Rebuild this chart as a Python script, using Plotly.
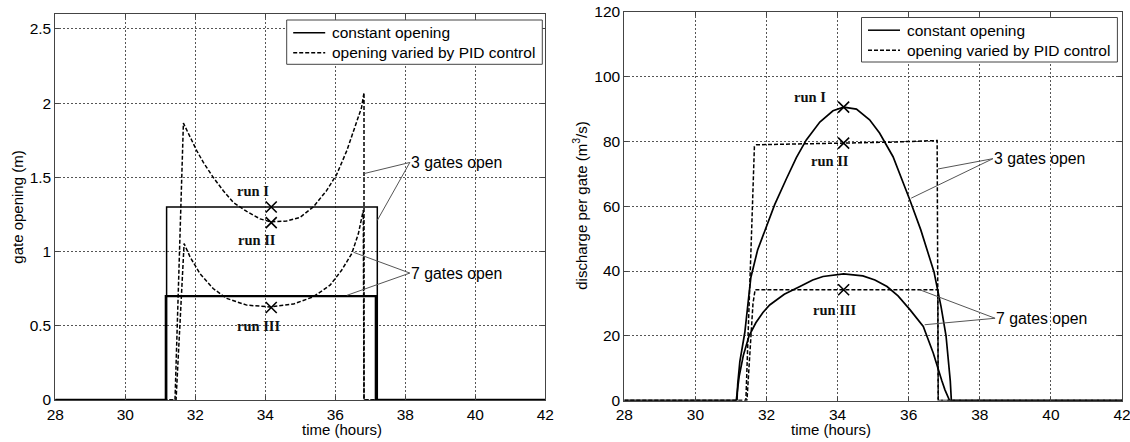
import plotly.graph_objects as go

# ---------------- gate opening (left panel) ----------------
t_open_const3 = [28, 31.18, 31.18, 37.2, 37.2, 42]
open_const3 = [0, 0, 1.3, 1.3, 0, 0]

t_open_const7 = [28, 31.16, 31.16, 37.16, 37.16, 42]
open_const7 = [0, 0, 0.7, 0.7, 0, 0]

t_open_pid3 = [28, 31.42, 31.66, 31.85, 32.04, 32.23, 32.51, 32.8, 33.09, 33.47,
               33.85, 34.16, 34.61, 34.99, 35.37, 35.75, 36.04, 36.33, 36.56, 36.75,
               36.82, 36.82, 42]
open_pid3 = [0, 0, 1.865, 1.77, 1.68, 1.60, 1.50, 1.41, 1.33, 1.27,
             1.22, 1.20, 1.206, 1.23, 1.30, 1.41, 1.52, 1.68, 1.84, 1.97,
             2.07, 0, 0]

t_open_pid7 = [28, 31.45, 31.68, 31.85, 32.13, 32.51, 32.9, 33.47, 34.13, 34.8,
               35.37, 35.85, 36.18, 36.47, 36.66, 36.8, 36.82, 42]
open_pid7 = [0, 0, 1.054, 0.964, 0.852, 0.751, 0.684, 0.639, 0.627, 0.646,
             0.695, 0.773, 0.874, 0.986, 1.121, 1.278, 0, 0]

# ---------------- discharge per gate (right panel) ----------------
t_q_const3 = [28, 31.17, 31.19, 31.25, 31.39, 31.56, 31.75, 32.0, 32.23, 32.56,
              32.84, 33.12, 33.5, 33.87, 34.17, 34.53, 34.9, 35.18, 35.56, 36.03,
              36.34, 36.71, 36.91, 37.05, 37.12, 37.17, 37.2, 42]
q_const3 = [0, 0, 5, 12, 21, 38, 46.5, 53.5, 60.5, 68.5,
            75, 80.5, 86, 89.5, 90.6, 90, 86.7, 82.6, 75.3, 62,
            52.7, 39.8, 29, 20, 13, 6, 0, 0]

t_q_const7 = [28, 31.15, 31.17, 31.23, 31.35, 31.51, 31.7, 31.9, 32.09, 32.5,
              32.94, 33.3, 33.59, 34.17, 34.71, 35.05, 35.39, 35.7, 36.04, 36.41,
              36.69, 36.83, 36.93, 37.02, 37.1, 37.15, 42]
q_const7 = [0, 0, 2, 7.4, 14, 20, 24, 27.2, 29.5, 32.8,
            35.2, 37.2, 38.3, 39.1, 38.5, 37.2, 35.2, 32.3, 28, 22.9,
            14.7, 9.5, 6.2, 3.3, 1, 0, 0]

t_q_pid3 = [28, 31.42, 31.58, 31.66, 31.72, 33.0, 34.17, 35.5, 36.8, 36.83, 42]
q_pid3 = [0, 0, 52, 78.5, 79, 79.2, 79.5, 79.8, 80.3, 0, 0]

t_q_pid7 = [28, 31.45, 31.62, 31.68, 36.82, 36.83, 42]
q_pid7 = [0, 0, 30, 34.2, 34.2, 0, 0]

# run markers and their labels
t_run = [34.17, 34.17, 34.17]
open_run = [1.3, 1.195, 0.623]
q_run = [90.6, 79.5, 34.2]
run_names = ["run I", "run II", "run III"]
t_run_label_open = [33.66, 33.75, 33.8]
y_run_label_open = [1.41, 1.076, 0.50]
t_run_label_q = [33.22, 33.78, 33.92]
y_run_label_q = [93.7, 74.1, 28.0]

# callouts: label point and the two curve points it points to
gate_labels = ["3 gates open", "7 gates open"]
open_callout_xy = [(38.13, 1.60), (38.13, 0.855)]
open_callout_targets = [[(36.82, 1.525), (37.2, 1.21)], [(36.52, 0.995), (36.33, 0.705)]]
q_callout_xy = [(38.37, 74.7), (38.43, 25.4)]
q_callout_targets = [[(36.82, 71.5), (36.07, 62.5)], [(36.31, 34.2), (36.45, 23.4)]]

legend_names = ["constant opening", "opening varied by PID control"]

x_ticks = [28, 30, 32, 34, 36, 38, 40, 42]
open_ticks = [0, 0.5, 1, 1.5, 2, 2.5]
q_ticks = [0, 20, 40, 60, 80, 100, 120]

W, H = 1130, 442
SANS = "Liberation Sans, Arial, sans-serif"
SERIF = "Liberation Serif, Times New Roman, serif"
DASH = "4px,2px"
FRAME = "#444"

fig = go.Figure()


def add_line(x, y, xa, ya, dash, width):
    fig.add_trace(go.Scatter(
        x=x, y=y, xaxis=xa, yaxis=ya, mode="lines",
        line=dict(color="black", width=width, dash=dash),
        showlegend=False, hoverinfo="skip"))


# left panel
add_line(t_open_const3, open_const3, "x", "y", "solid", 1.5)
add_line(t_open_const7, open_const7, "x", "y", "solid", 2.4)
add_line(t_open_pid3, open_pid3, "x", "y", DASH, 1.5)
add_line(t_open_pid7, open_pid7, "x", "y", DASH, 1.5)

# right panel
add_line(t_q_const3, q_const3, "x2", "y2", "solid", 1.7)
add_line(t_q_const7, q_const7, "x2", "y2", "solid", 1.7)
add_line(t_q_pid3, q_pid3, "x2", "y2", DASH, 1.5)
add_line(t_q_pid7, q_pid7, "x2", "y2", DASH, 1.5)

# callout leader lines
for xa, ya, pts, tgts in (("x", "y", open_callout_xy, open_callout_targets),
                          ("x2", "y2", q_callout_xy, q_callout_targets)):
    for (cx, cy), targets in zip(pts, tgts):
        for tx, ty in targets:
            fig.add_trace(go.Scatter(x=[cx, tx], y=[cy, ty], xaxis=xa, yaxis=ya, mode="lines",
                                     line=dict(color="#555", width=1),
                                     showlegend=False, hoverinfo="skip"))

# run markers
marker = dict(symbol="x-thin", size=11, line=dict(color="black", width=1.6), color="black")
fig.add_trace(go.Scatter(x=t_run, y=open_run, xaxis="x", yaxis="y", mode="markers",
                         marker=marker, showlegend=False, hoverinfo="skip"))
fig.add_trace(go.Scatter(x=t_run, y=q_run, xaxis="x2", yaxis="y2", mode="markers",
                         marker=marker, showlegend=False, hoverinfo="skip"))

annotations = []
for xa, ya, xs, ys in (("x", "y", t_run_label_open, y_run_label_open),
                       ("x2", "y2", t_run_label_q, y_run_label_q)):
    for name, x, y in zip(run_names, xs, ys):
        annotations.append(dict(x=x, y=y, xref=xa, yref=ya, text=f"<b>{name}</b>",
                                showarrow=False, font=dict(family=SERIF, size=14.5, color="#111")))
for xa, ya, pts in (("x", "y", open_callout_xy), ("x2", "y2", q_callout_xy)):
    for label, (x, y) in zip(gate_labels, pts):
        annotations.append(dict(x=x, y=y, xref=xa, yref=ya, text=label, showarrow=False,
                                xanchor="left", xshift=-1,
                                font=dict(family=SANS, size=15.8, color="black")))

# plot areas (paper fractions, margins are zero)
xl_dom = [55.3 / W, 545.3 / W]
xr_dom = [624.3 / W, 1122.0 / W]
yl_dom = [(H - 400) / H, (H - 14) / H]
yr_dom = [(H - 400.5) / H, (H - 12) / H]

title_font = dict(family=SANS, size=15, color="black")
annotations += [
    dict(x=sum(xl_dom) / 2, y=(H - 429) / H, xref="paper", yref="paper", text="time (hours)",
         showarrow=False, font=title_font, yanchor="middle"),
    dict(x=sum(xr_dom) / 2, y=(H - 429) / H, xref="paper", yref="paper", text="time (hours)",
         showarrow=False, font=title_font, yanchor="middle"),
    dict(x=16.7 / W, y=sum(yl_dom) / 2, xref="paper", yref="paper", text="gate opening (m)",
         showarrow=False, font=title_font, textangle=-90, xanchor="center", yanchor="middle"),
    dict(x=579.5 / W, y=sum(yr_dom) / 2, xref="paper", yref="paper",
         text="discharge per gate (m<sup>3</sup>/s)",
         showarrow=False, font=title_font, textangle=-90, xanchor="center", yanchor="middle"),
]

# boxed legends, one per panel: (box left, box top, box right, box bottom) in pixels
legend_boxes = [(286.7, 20.0, 542.3, 64.3), (861.5, 17.5, 1117.4, 62.0)]
shapes = []
for (x0, y0, x1, y1) in legend_boxes:
    shapes.append(dict(type="rect", xref="paper", yref="paper",
                       x0=x0 / W, x1=x1 / W, y0=(H - y0) / H, y1=(H - y1) / H,
                       line=dict(color=FRAME, width=1), fillcolor="white", layer="above"))
    for i, (name, dash) in enumerate(zip(legend_names, ["solid", DASH])):
        row_y = y0 + 12.7 + 20 * i
        shapes.append(dict(type="line", xref="paper", yref="paper",
                           x0=(x0 + 6.5) / W, x1=(x0 + 38.5) / W,
                           y0=(H - row_y) / H, y1=(H - row_y) / H,
                           line=dict(color="black", width=1.5, dash=dash), layer="above"))
        annotations.append(dict(x=(x0 + 43) / W, y=(H - row_y) / H, xref="paper", yref="paper",
                                text=name, showarrow=False, xanchor="left", yanchor="middle",
                                font=dict(family=SANS, size=15.5, color="black")))

axis_common = dict(
    showline=True, linecolor=FRAME, linewidth=1, mirror="allticks",
    ticks="inside", ticklen=4, tickcolor=FRAME, automargin=False,
    ticklabeloverflow="allow",
    showgrid=True, gridcolor="#555", gridwidth=1, griddash="2px,2px",
    zeroline=False, tickfont=dict(family=SANS, size=15.5, color="black"),
)

fig.update_layout(
    template="none",
    width=W, height=H, margin=dict(l=0, r=0, t=0, b=0, autoexpand=False),
    paper_bgcolor="white", plot_bgcolor="white",
    xaxis=dict(domain=xl_dom, anchor="y", range=[28, 42], tickvals=x_ticks, **axis_common),
    yaxis=dict(domain=yl_dom, anchor="x", range=[0, 2.6], tickvals=open_ticks, **axis_common),
    xaxis2=dict(domain=xr_dom, anchor="y2", range=[28, 42], tickvals=x_ticks, **axis_common),
    yaxis2=dict(domain=yr_dom, anchor="x2", range=[0, 120], tickvals=q_ticks, **axis_common),
    showlegend=False,
    annotations=annotations,
    shapes=shapes,
)

fig.write_html("out.html")
